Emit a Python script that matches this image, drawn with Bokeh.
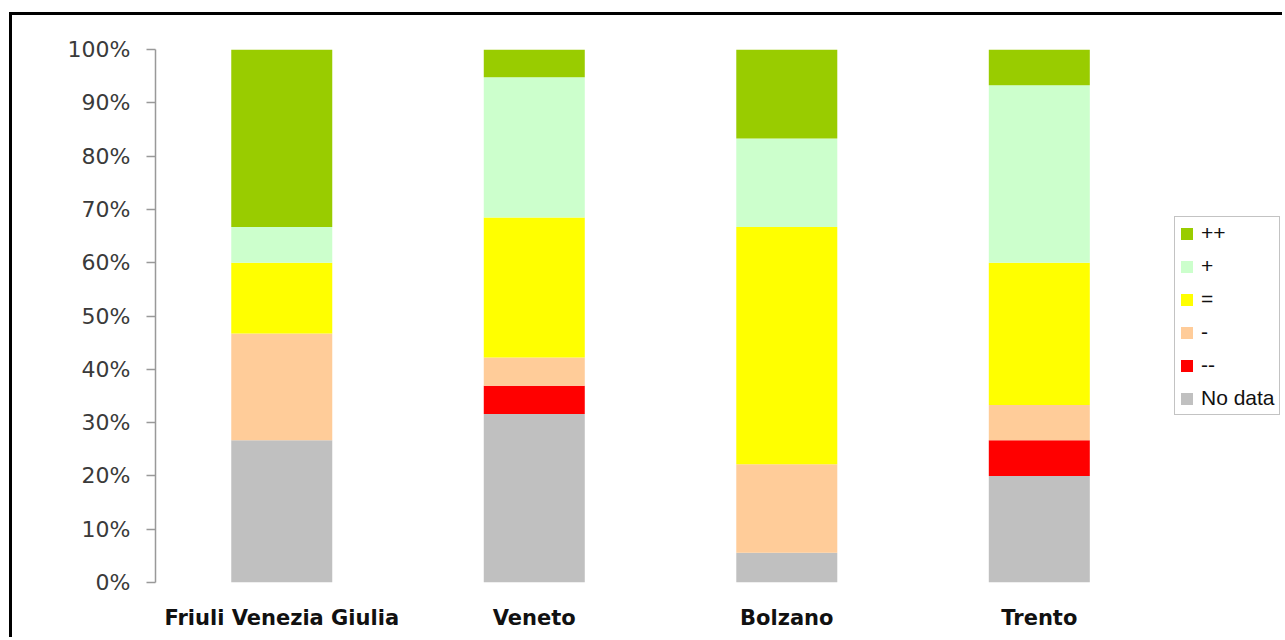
from bokeh.plotting import figure
from bokeh.models import (ColumnDataSource, Range1d, FixedTicker,
                          Legend, LegendItem, PrintfTickFormatter)
from bokeh.embed import file_html
from bokeh.resources import INLINE

regions = ["Friuli Venezia Giulia", "Veneto", "Bolzano", "Trento"]
# percentage shares, stacked from the bottom
no_data = [26.7, 31.6, 5.6, 20.0]
minus2 = [0.0, 5.3, 0.0, 6.7]
minus1 = [20.0, 5.3, 16.6, 6.6]
equal = [13.3, 26.3, 44.5, 26.7]
plus1 = [6.7, 26.3, 16.6, 33.3]
plus2 = [33.3, 5.2, 16.7, 6.7]
series_keys = ["no_data", "minus2", "minus1", "equal", "plus1", "plus2"]
series_labels = ["No data", "--", "-", "=", "+", "++"]
series_colors = ["#C0C0C0", "#FF0000", "#FFCC99", "#FFFF00", "#CCFFCC", "#99CC00"]
y_ticks = [0, 10, 20, 30, 40, 50, 60, 70, 80, 90, 100]

# category slots: one unit each, bar centred in its slot
xpos = [i + 0.5 for i in range(len(regions))]

source = ColumnDataSource(dict(x=xpos, no_data=no_data, minus2=minus2,
                               minus1=minus1, equal=equal, plus1=plus1, plus2=plus2))

p = figure(width=1273, height=625, x_range=Range1d(0, 4.475),
           y_range=Range1d(0, 100), output_backend="svg", toolbar_location=None,
           min_border_left=143, min_border_top=34, min_border_right=0,
           min_border_bottom=58,
           styles={"margin-left": "9px", "margin-top": "12px",
                   "border-left": "3px solid black", "border-top": "3px solid black"})
p.outline_line_color = None
p.xgrid.grid_line_color = None
p.ygrid.grid_line_color = None
p.background_fill_color = "white"
p.border_fill_color = "white"

renderers = p.vbar_stack(series_keys, x="x", width=0.4, color=series_colors,
                         source=source, line_color=None)

p.yaxis.ticker = FixedTicker(ticks=y_ticks)
p.yaxis.formatter = PrintfTickFormatter(format="%d%%")
p.yaxis.axis_line_color = "#999999"
p.yaxis.axis_line_width = 1.5
p.yaxis.major_tick_line_color = "#999999"
p.yaxis.major_tick_line_width = 1.5
p.yaxis.major_tick_in = 0
p.yaxis.major_tick_out = 9
p.yaxis.minor_tick_line_color = None
p.yaxis.major_label_standoff = 16
p.yaxis.major_label_text_font = "DejaVu Sans"
p.yaxis.major_label_text_font_size = "22px"
p.yaxis.major_label_text_color = "#3a3a3a"

p.xaxis.ticker = FixedTicker(ticks=xpos)
p.xaxis.major_label_overrides = {x: r for x, r in zip(xpos, regions)}
p.xaxis.axis_line_color = None
p.xaxis.major_tick_line_color = None
p.xaxis.minor_tick_line_color = None
p.xaxis.major_tick_out = 0
p.xaxis.major_tick_in = 0
p.xaxis.major_label_standoff = 23
p.xaxis.major_label_text_font = "DejaVu Sans"
p.xaxis.major_label_text_font_style = "bold"
p.xaxis.major_label_text_font_size = "21px"
p.xaxis.major_label_text_color = "#111111"

items = [LegendItem(label=lab, renderers=[r])
         for lab, r in zip(series_labels, renderers)][::-1]
legend = Legend(items=items, location=(1019, 167))
legend.label_text_font = "Liberation Sans"
legend.label_text_font_size = "21px"
legend.label_text_color = "#111111"
legend.glyph_width = 15
legend.glyph_height = 15
legend.label_height = 22
legend.label_standoff = 7
legend.spacing = 9
legend.padding = 4
legend.margin = 0
legend.border_line_color = "#888888"
legend.border_line_width = 1
legend.background_fill_color = "white"
legend.background_fill_alpha = 1
p.add_layout(legend, "center")

open("out.html", "w").write(file_html(p, INLINE))
